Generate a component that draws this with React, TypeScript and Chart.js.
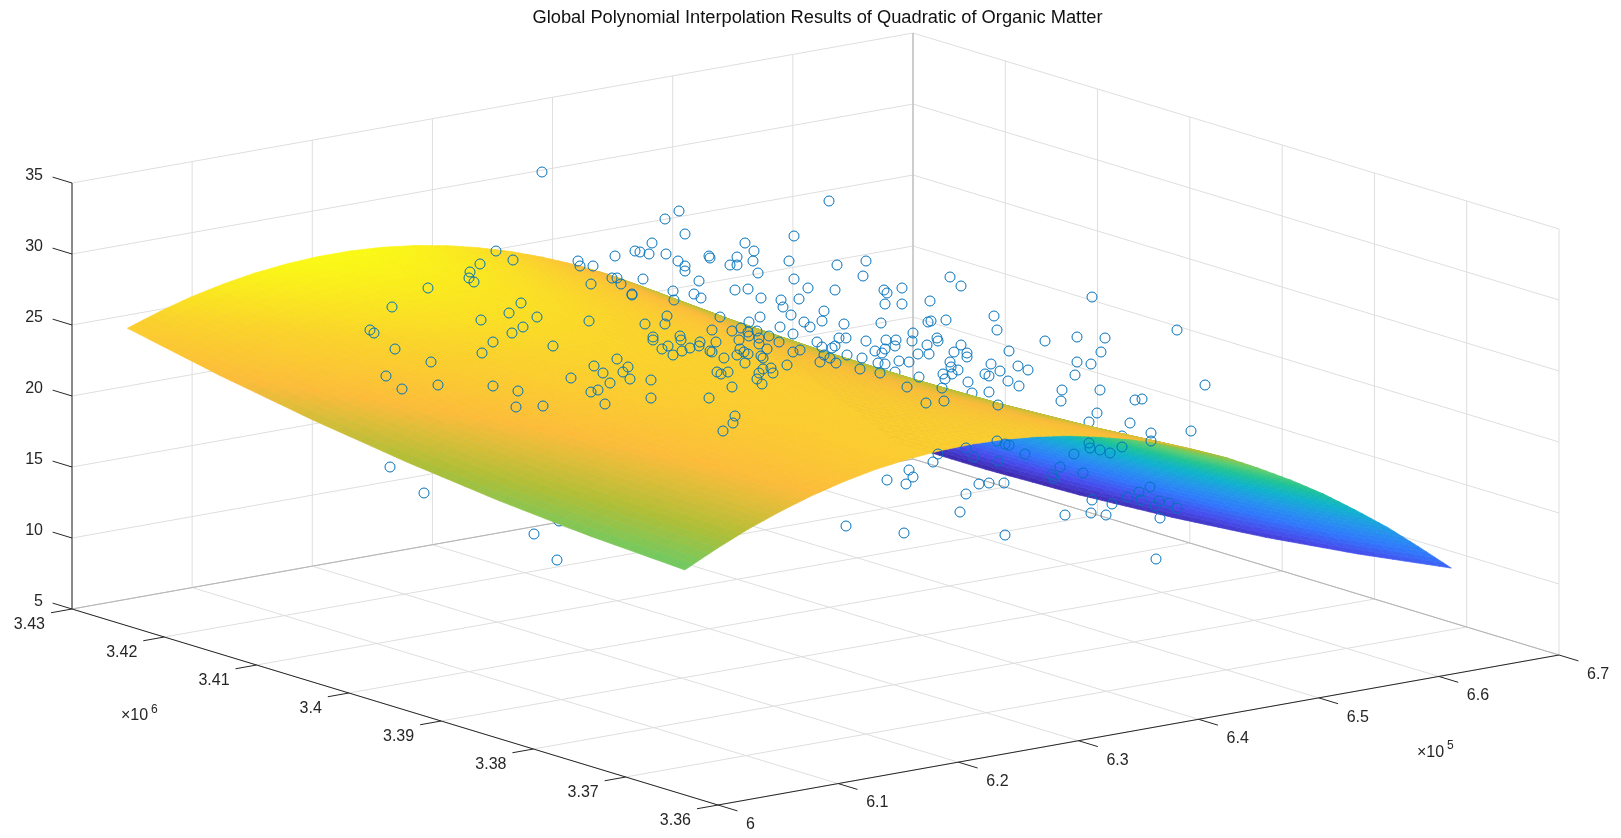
import React, { useEffect, useRef } from "react";
import { Chart, registerables } from "chart.js";

Chart.register(...registerables);

const TITLE = "Global Polynomial Interpolation Results of Quadratic of Organic Matter";

// Axes of the 3-D box (x in 1e5, y in 1e6)
const xTicks = [6, 6.1, 6.2, 6.3, 6.4, 6.5, 6.6, 6.7];
const xTickLabels = ["6", "6.1", "6.2", "6.3", "6.4", "6.5", "6.6", "6.7"];
const yTicks = [3.36, 3.37, 3.38, 3.39, 3.4, 3.41, 3.42, 3.43];
const yTickLabels = ["3.36", "3.37", "3.38", "3.39", "3.4", "3.41", "3.42", "3.43"];
const zTicks = [5, 10, 15, 20, 25, 30, 35];
const zTickLabels = ["5", "10", "15", "20", "25", "30", "35"];

// Fitted surface: organic matter at each (y row, x column)
const surfaceX = [6.01, 6.037, 6.063, 6.09, 6.116, 6.143, 6.169, 6.196, 6.223, 6.249, 6.276, 6.302, 6.329, 6.355, 6.382, 6.409, 6.435, 6.462, 6.488, 6.515, 6.542, 6.568, 6.595, 6.621, 6.648];
const surfaceY = [3.3649, 3.375, 3.385, 3.3951, 3.4052, 3.4153, 3.4253];
const surfaceRow0 = [20.44,21.55,22.52,23.37,24.08,24.67,25.12,25.44,25.63,25.69,25.62,25.42,25.09,24.63,24.04,23.32,22.47,21.49,20.37,19.12,17.74,16.24,14.6,12.84,10.94];
const surfaceRow1 = [20.79,21.84,22.76,23.55,24.2,24.73,25.13,25.4,25.53,25.54,25.41,25.15,24.76,24.25,23.6,22.83,21.92,20.88,19.7,18.4,16.97,15.41,13.71,11.89,9.94];
const surfaceRow2 = [21.34,22.33,23.19,23.93,24.53,25,25.34,25.55,25.63,25.58,25.4,25.09,24.64,24.07,23.36,22.53,21.57,20.47,19.24,17.88,16.39,14.78,13.03,11.15,9.14];
const surfaceRow3 = [22.1,23.04,23.84,24.52,25.06,25.48,25.76,25.92,25.94,25.83,25.59,25.22,24.72,24.1,23.34,22.45,21.43,20.28,18.99,17.58,16.03,14.36,12.55,10.62,8.55];
const surfaceRow4 = [23.05,23.93,24.68,25.3,25.78,26.14,26.37,26.47,26.44,26.28,25.98,25.55,24.99,24.31,23.49,22.55,21.47,20.26,18.92,17.45,15.84,14.11,12.25,10.26,8.14];
const surfaceRow5 = [24.2,25.02,25.71,26.28,26.71,27.01,27.18,27.23,27.14,26.92,26.56,26.08,25.47,24.73,23.85,22.85,21.72,20.45,19.05,17.53,15.87,14.08,12.16,10.12,7.94];
const surfaceRow6 = [25.55,26.32,26.95,27.46,27.83,28.08,28.2,28.19,28.04,27.76,27.35,26.81,26.14,25.35,24.42,23.36,22.17,20.85,19.39,17.81,16.09,14.25,12.28,10.18,7.94];
const surfaceRows = [surfaceRow0, surfaceRow1, surfaceRow2, surfaceRow3, surfaceRow4, surfaceRow5, surfaceRow6];

// Samples as they sit in the viewing plane (horizontal, vertical)
const sampleViewX = [542,496,480,513,470,469,474,428,392,578,580,593,615,635,640,612,617,621,591,632,632,643,521,509,481,537,589,523,512,370,374,493,553,395,482,431,386,402,438,493,518,516,543,571,594,603,617,628,623,630,610,598,591,605,390,424,534,557,
679,665,829,685,652,649,666,745,754,794,709,710,737,730,737,753,678,685,685,789,837,866,758,863,794,699,808,835,735,748,884,887,902,673,694,701,761,781,799,783,674,885,902,824,791,760,667,720,749,804,822,810,844,881,645,665,780,793,712,732,741,748,757,913,912,680,653,653,749,769,739,759,779,716,817,839,846,866,886,896,700,681,668,662,690,699,682,710,712,740,759,767,744,737,748,673,800,793,822,835,832,895,885,875,882,918,824,830,847,862,899,909,878,885,820,836,724,761,763,745,787,860,880,771,763,717,721,728,759,773,651,757,762,732,907,651,709,735,733,723,909,913,906,887,846,904,
950,961,930,1092,928,931,946,994,997,937,938,927,961,1045,1077,1105,1009,1101,954,929,967,967,950,1077,1091,991,951,1018,1028,1000,958,985,989,1075,943,952,945,1008,968,1019,1062,1100,919,942,
1061,989,1135,1142,926,944,998,1097,1130,1151,1191,1151,1089,1090,1100,1110,1122,1074,1025,1009,1005,997,966,938,933,974,998,1060,1052,1054,1083,979,989,1004,966,1150,1139,1127,1141,1092,1112,1159,1169,1155,1177,960,1091,1106,1065,1160,1005,1156,1177,1205];
const sampleViewY = [172,251,264,260,272,278,282,288,307,261,266,266,256,251,252,278,278,284,284,294,295,279,303,313,320,317,321,327,333,330,333,342,346,349,353,362,376,389,385,386,391,407,406,378,366,373,359,367,372,379,383,390,392,404,467,493,534,560,
211,219,201,234,243,254,254,243,251,236,256,258,257,265,265,261,261,266,271,261,265,261,273,276,279,281,288,290,290,289,290,293,288,291,294,298,298,300,299,307,300,304,304,311,315,317,316,317,322,322,321,327,324,323,324,324,327,334,330,331,328,332,331,333,341,336,337,340,336,336,340,338,342,342,342,338,338,341,340,340,342,340,346,349,348,346,351,351,352,349,344,349,352,355,354,355,350,352,347,346,348,346,349,351,353,354,355,358,355,358,361,362,363,364,362,363,358,356,358,363,365,369,373,368,369,372,374,372,373,373,380,379,384,387,387,398,398,416,423,431,470,477,484,480,526,533,
277,286,301,297,322,321,320,316,330,338,341,345,345,341,337,338,351,352,352,354,353,357,362,362,364,364,367,366,370,371,370,374,376,375,374,374,379,381,382,386,390,390,377,388,
401,392,400,399,403,401,405,413,423,433,431,441,443,448,450,453,447,454,454,445,444,441,448,454,462,457,461,467,475,478,473,484,483,483,494,487,492,497,500,500,504,501,503,506,508,512,513,515,515,518,535,559,330,385];
// Samples partly hidden by the sheet
const hiddenViewX = [559, 895, 972, 1089, 1122];
const hiddenViewY = [521, 372, 393, 422, 436];

const parulaStops = [
  [62, 38, 168], [71, 75, 235], [48, 120, 252], [35, 150, 235], [15, 178, 205], [30, 195, 150],
  [95, 205, 110], [175, 190, 55], [252, 188, 58], [250, 212, 42], [250, 250, 20],
];

const W = 1621;
const H = 838;
const TITLE_BOX = 28.96;
const TITLE_SHIFT = 14;

const norm = (x: number, y: number, z: number) => [(x - 6) / 0.7, (y - 3.36) / 0.07, (z - 5) / 30];
const planeX = (n: number[]) => 718 + 841 * n[0] - 646 * n[1];
const planeY = (n: number[]) => 805 - 150 * n[0] - 196 * n[1] - 426 * n[2];
const at = (x: number, y: number, z: number) => {
  const n = norm(x, y, z);
  return { x: planeX(n), y: planeY(n) };
};
const depthOf = (n: number[]) => -275196 * n[0] - 358266 * n[1] + 261736 * n[2];

function colorFor(z: number, lo: number, hi: number) {
  const t = Math.max(0, Math.min(1, (z - lo) / (hi - lo))) * (parulaStops.length - 1);
  const i = Math.min(parulaStops.length - 2, Math.floor(t));
  const f = t - i;
  const a = parulaStops[i];
  const b = parulaStops[i + 1];
  return `rgb(${a.map((v, k) => Math.round(v + (b[k] - v) * f)).join(",")})`;
}

const SURFACE_LABEL = "Quadratic surface";
const SUB_U = 4;
const SUB_V = 8;

const surfacePlugin = {
  id: "surfaceSheet",
  afterDatasetDraw(chart: any, args: any) {
    const ds = chart.data.datasets[args.index];
    if (ds.label !== SURFACE_LABEL) return;
    const { ctx } = chart;
    const sx = chart.scales.x;
    const sy = chart.scales.y;
    const all = surfaceRows.flat();
    const lo = Math.min(...all);
    const hi = Math.max(...all);
    const quads: { d: number; c: string; p: number[][] }[] = [];
    const node = (r: number, c: number, u: number, v: number) => {
      const y = surfaceY[r] + (surfaceY[r + 1] - surfaceY[r]) * v;
      const x = surfaceX[c] + (surfaceX[c + 1] - surfaceX[c]) * u;
      const z0 = surfaceRows[r][c] + (surfaceRows[r][c + 1] - surfaceRows[r][c]) * u;
      const z1 = surfaceRows[r + 1][c] + (surfaceRows[r + 1][c + 1] - surfaceRows[r + 1][c]) * u;
      const z = z0 + (z1 - z0) * v;
      const n = norm(x, y, z);
      return { px: sx.getPixelForValue(planeX(n)), py: sy.getPixelForValue(planeY(n)), d: depthOf(n), z };
    };
    for (let r = 0; r < surfaceY.length - 1; r++) {
      for (let c = 0; c < surfaceX.length - 1; c++) {
        for (let i = 0; i < SUB_U; i++) {
          for (let j = 0; j < SUB_V; j++) {
            const a = node(r, c, i / SUB_U, j / SUB_V);
            const b = node(r, c, (i + 1) / SUB_U, j / SUB_V);
            const e = node(r, c, (i + 1) / SUB_U, (j + 1) / SUB_V);
            const f = node(r, c, i / SUB_U, (j + 1) / SUB_V);
            quads.push({
              d: (a.d + b.d + e.d + f.d) / 4,
              c: colorFor((a.z + b.z + e.z + f.z) / 4, lo, hi),
              p: [[a.px, a.py], [b.px, b.py], [e.px, e.py], [f.px, f.py]],
            });
          }
        }
      }
    }
    quads.sort((q1, q2) => q1.d - q2.d);
    ctx.save();
    ctx.lineWidth = 0.7;
    for (const q of quads) {
      ctx.beginPath();
      ctx.moveTo(q.p[0][0], q.p[0][1]);
      for (let k = 1; k < 4; k++) ctx.lineTo(q.p[k][0], q.p[k][1]);
      ctx.closePath();
      ctx.fillStyle = q.c;
      ctx.strokeStyle = q.c;
      ctx.fill();
      ctx.stroke();
    }
    ctx.restore();
  },
};

const FONT = '16px "Liberation Sans", Arial, sans-serif';
const tickTextPlugin = {
  id: "tickText",
  afterDraw(chart: any) {
    const { ctx } = chart;
    const sx = chart.scales.x;
    const sy = chart.scales.y;
    const put = (base: { x: number; y: number }, dx: number, dy: number, text: string, align: CanvasTextAlign) => {
      ctx.textAlign = align;
      ctx.fillText(text, sx.getPixelForValue(base.x) + dx, sy.getPixelForValue(base.y) + dy);
    };
    ctx.save();
    ctx.font = FONT;
    ctx.fillStyle = "#262626";
    ctx.textBaseline = "middle";
    xTicks.forEach((t, i) => put(at(t, 3.36, 5), 28, 19.5, xTickLabels[i], "left"));
    yTicks.forEach((t, i) => put(at(6, t, 5), -27, 16, yTickLabels[i], "right"));
    zTicks.forEach((t, i) => put(at(6, 3.43, t), -29, -7, zTickLabels[i], "right"));
    ctx.textAlign = "left";
    ctx.fillText("\u00d710", 121, 716);
    ctx.fillText("\u00d710", 1417, 753);
    ctx.font = '12px "Liberation Sans", Arial, sans-serif';
    ctx.fillText("6", 151, 710);
    ctx.fillText("5", 1447, 746);
    ctx.restore();
  },
};

function segment(a: { x: number; y: number }, b: { x: number; y: number }, color: string, order: number) {
  return {
    type: "scatter" as const,
    data: [a, b],
    showLine: true,
    pointRadius: 0,
    borderWidth: 1,
    borderColor: color,
    backgroundColor: color,
    order,
    clip: false,
  };
}

function buildDatasets() {
  const grid = "#dedede";
  const box = "#b4b4b4";
  const ink = "#262626";
  const sets: any[] = [];
  for (const t of zTicks) {
    sets.push(segment(at(6, 3.43, t), at(6.7, 3.43, t), grid, 6));
    sets.push(segment(at(6.7, 3.43, t), at(6.7, 3.36, t), grid, 6));
  }
  for (const t of xTicks) {
    sets.push(segment(at(t, 3.36, 5), at(t, 3.43, 5), grid, 6));
    sets.push(segment(at(t, 3.43, 5), at(t, 3.43, 35), grid, 6));
  }
  for (const t of yTicks) {
    sets.push(segment(at(6, t, 5), at(6.7, t, 5), grid, 6));
    sets.push(segment(at(6.7, t, 5), at(6.7, t, 35), grid, 6));
  }
  sets.push(segment(at(6, 3.43, 5), at(6.7, 3.43, 5), box, 5));
  sets.push(segment(at(6.7, 3.43, 5), at(6.7, 3.36, 5), box, 5));
  sets.push(segment(at(6.7, 3.43, 5), at(6.7, 3.43, 35), box, 5));
  sets.push(segment(at(6, 3.36, 5), at(6.7, 3.36, 5), ink, 1));
  sets.push(segment(at(6, 3.36, 5), at(6, 3.43, 5), ink, 1));
  sets.push(segment(at(6, 3.43, 5), at(6, 3.43, 35), ink, 1));
  for (const t of xTicks) sets.push(segment(at(t, 3.36, 5), at(t, 3.3579, 5), ink, 1));
  for (const t of yTicks) sets.push(segment(at(6, t, 5), at(5.9825, t, 5), ink, 1));
  for (const t of zTicks) sets.push(segment(at(6, 3.43, t), at(6, 3.4321, t), ink, 1));

  const marker = {
    type: "scatter" as const,
    pointRadius: 5,
    pointStyle: "circle",
    borderWidth: 1,
    borderColor: "#0072BD",
    pointBorderColor: "#0072BD",
    pointBackgroundColor: "rgba(0,0,0,0)",
    backgroundColor: "rgba(0,0,0,0)",
    showLine: false,
    clip: false,
  };
  sets.push({
    ...marker,
    label: "Hidden samples",
    data: hiddenViewX.map((x, i) => ({ x, y: hiddenViewY[i] })),
    order: 4,
  });
  const nodes: { x: number; y: number }[] = [];
  surfaceRows.forEach((row, r) => row.forEach((z, c) => nodes.push(at(surfaceX[c], surfaceY[r], z))));
  sets.push({ type: "scatter" as const, label: SURFACE_LABEL, data: nodes, pointRadius: 0, showLine: false, order: 3, clip: false });
  sets.push({
    ...marker,
    label: "Samples",
    data: sampleViewX.map((x, i) => ({ x, y: sampleViewY[i] })),
    order: 0,
  });
  return sets;
}

export default function App() {
  const ref = useRef<HTMLCanvasElement>(null);
  useEffect(() => {
    if (!ref.current) return;
    const chart = new Chart(ref.current, {
      type: "scatter",
      data: { datasets: buildDatasets() },
      plugins: [surfacePlugin, tickTextPlugin],
      options: {
        animation: false,
        responsive: false,
        devicePixelRatio: 1,
        layout: { padding: { left: TITLE_SHIFT }, autoPadding: false },
        events: [],
        scales: {
          x: { type: "linear", display: false, min: TITLE_SHIFT, max: W },
          y: { type: "linear", display: false, min: TITLE_BOX, max: H, reverse: true },
        },
        plugins: {
          legend: { display: false },
          tooltip: { enabled: false },
          title: {
            display: true,
            text: TITLE,
            color: "#111",
            padding: { top: 7, bottom: 0 },
            font: { family: '"Liberation Sans", Arial, sans-serif', size: 18.3, weight: "normal", lineHeight: 1.2 },
          },
        },
      },
    } as any);
    return () => chart.destroy();
  }, []);
  return (
    <canvas
      ref={ref}
      width={W}
      height={H}
      style={{ position: "absolute", left: 0, top: 0, width: W, height: H, display: "block", background: "#fff" }}
    />
  );
}
